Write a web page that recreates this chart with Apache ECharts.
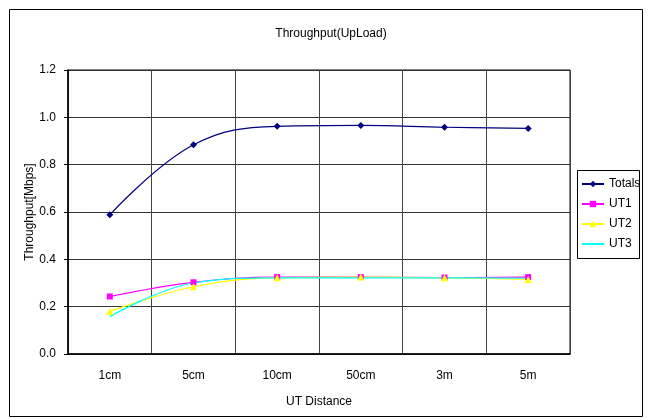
<!DOCTYPE html>
<html><head><meta charset="utf-8">
<script src="https://cdn.jsdelivr.net/npm/echarts@6/dist/echarts.min.js"></script>
<style>html,body{margin:0;padding:0;background:#fff}#c{width:652px;height:419px}</style>
</head><body><div id="c"></div>
<script>
var categories = ['1cm','5cm','10cm','50cm','3m','5m'];
var totals = [0.588, 0.884, 0.962, 0.966, 0.958, 0.953];
var ut1 = [0.243, 0.303, 0.325, 0.325, 0.323, 0.325];
var ut2 = [0.180, 0.284, 0.322, 0.325, 0.322, 0.315];
var ut3 = [0.158, 0.300, 0.322, 0.322, 0.322, 0.320];
var seriesNames = ['Totals','UT1','UT2','UT3'];

var font = '"Liberation Sans", sans-serif';
var chart = echarts.init(document.getElementById('c'), null, {renderer:'canvas'});
function mk(name, data, color, symbol, size){
  return {name:name, type:'line', data:data, smooth:0.4, symbol:symbol, symbolSize:size,
    lineStyle:{color:color, width:1.2}, itemStyle:{color:color}, z: name==='Totals'?3:2};
}
chart.setOption({
  animation:false,
  backgroundColor:'#fff',
  title:{text:'Throughput(UpLoad)', left:326, top:23, textAlign:'center',
    textStyle:{fontFamily:font, fontSize:12, fontWeight:'normal', color:'#000'}},
  graphic:[{type:'rect', shape:{x:9.5,y:9.5,width:633,height:407}, style:{fill:null, stroke:'#000', lineWidth:1}, silent:true},
           {type:'rect', shape:{x:577.5,y:170.5,width:62,height:88}, style:{fill:null, stroke:'#000', lineWidth:1}, silent:true}],
  legend:{orient:'vertical', left:576, top:173, itemGap:8, itemWidth:22, itemHeight:8,
    data:seriesNames, textStyle:{fontFamily:font, fontSize:12, color:'#000'}},
  grid:{left:68, right:82, top:70, bottom:65, show:true, borderColor:'#000', borderWidth:1},
  xAxis:{type:'category', data:categories, boundaryGap:true,
    name:'UT Distance', nameLocation:'middle', nameGap:42,
    nameTextStyle:{fontFamily:font, fontSize:12, color:'#000'},
    axisLine:{lineStyle:{color:'#000', width:1.5}},
    axisTick:{show:false},
    axisLabel:{fontFamily:font, fontSize:12, color:'#000', margin:16},
    splitLine:{show:true, lineStyle:{color:'#444', width:1}}},
  yAxis:{type:'value', min:0, max:1.2, interval:0.2,
    name:'Throughput[Mbps]', nameLocation:'middle', nameGap:32, nameMoveOverlap:false,
    nameTextStyle:{fontFamily:font, fontSize:12, color:'#000'},
    axisLine:{show:true, lineStyle:{color:'#000', width:1.5}},
    axisTick:{show:true, length:4, lineStyle:{color:'#000'}},
    axisLabel:{fontFamily:font, fontSize:12, color:'#000', margin:12, formatter:function(v){return v.toFixed(1);}},
    splitLine:{show:true, lineStyle:{color:'#333', width:1}}},
  series:[
    mk('Totals', totals, '#000080', 'diamond', 7),
    mk('UT1', ut1, '#ff00ff', 'rect', 6),
    mk('UT2', ut2, '#ffff00', 'triangle', 7),
    mk('UT3', ut3, '#00ffff', 'path://M0,0L10,10M10,0L0,10', 6)
  ]
});
</script></body></html>
